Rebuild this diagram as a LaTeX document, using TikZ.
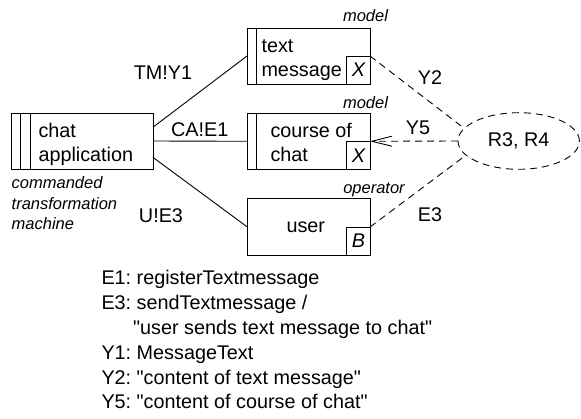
\documentclass[tikz,border=0pt]{standalone}
\usepackage{fontspec}
\setmainfont{Liberation Sans}
\usetikzlibrary{shapes.geometric,arrows.meta}
\frenchspacing
\newcommand\dgmain{\fontsize{19.8}{24.3}\selectfont}
\newcommand\dgnote{\fontsize{16.5}{20.2}\selectfont\itshape}
\newcommand\dglegend{\fontsize{19.8}{24.9}\selectfont}
\newcommand\dq{\textquotedbl}
\begin{document}
\begin{tikzpicture}[x=1pt,y=-1pt,
  every node/.style={inner sep=0pt, outer sep=0pt},
  lw/.style={line width=0.9pt},
  dashline/.style={lw, dash pattern=on 7pt off 5pt},
  box/.style={draw, lw, minimum width=123pt, minimum height=56pt, anchor=north west},
  corner/.style={draw, lw, minimum width=23.3pt, minimum height=28pt, anchor=south east, font=\dgmain\itshape},
  boxtext/.style={anchor=base west, align=left, font=\dgmain},
  lbl/.style={anchor=base, font=\dgmain},
  note/.style={font=\dgnote}]
\useasboundingbox (0,0) rectangle (581,419);

% machine domain with three stripes
\node[box, minimum width=142pt] (app) at (11,113) {};
\draw[lw] ([xshift=9.7pt]app.north west) -- ([xshift=9.7pt]app.south west);
\draw[lw] ([xshift=19pt]app.north west) -- ([xshift=19pt]app.south west);
\node[boxtext] (tapp) at (38.5,162) {chat\\application};
\node[note, anchor=base west, align=left] (ctm) at (11.7,229.3) {commanded\\transformation\\machine};

% model domains
\node[box] (tm) at (247,28) {};
\draw[lw] ([xshift=9.5pt]tm.north west) -- ([xshift=9.5pt]tm.south west);
\node[corner] (xtm) at (tm.south east) {X};
\node[boxtext] (ttm) at (261.5,76.5) {text\\message};
\node[note, anchor=base] (m1) at (365.5,21.7) {model};

\node[box] (cc) at (247,113.3) {};
\draw[lw] ([xshift=9.5pt]cc.north west) -- ([xshift=9.5pt]cc.south west);
\node[corner] (xcc) at (cc.south east) {X};
\node[boxtext] (tcc) at (270.5,162) {course of\\chat};
\node[note, anchor=base] (m2) at (365.5,108.3) {model};

% biddable domain
\node[box, minimum height=56.5pt] (us) at (247,198.5) {};
\node[corner] (xus) at (us.south east) {B};
\node[lbl] (tus) at (305.8,232.3) {user};
\node[note, anchor=base] (op) at (374,193.3) {operator};

% requirements
\node[draw, dashline, ellipse, minimum width=121.4pt, minimum height=56.6pt, font=\dgmain] (req) at (518.7,141) {R3, R4};

% interfaces
\draw[lw] (app.11) -- (tm.west);
\draw[lw] (app.east) -- (cc.west);
\draw[lw] (app.-13.5) -- (us.west);
\draw[dashline] (xtm.north east) -- (req.167);
\draw[dashline, -{Straight Barb[length=20pt,width=10pt]}] (req.west) -- (xcc.north east);
\draw[dashline] (xus.north east) -- (req.195);

\node[lbl] (ltm) at (163,80) {TM!Y1};
\node[lbl] (lca) at (199.7,136.7) {CA!E1};
\node[lbl] (lue) at (161,222.7) {U!E3};
\node[lbl] (ly2) at (430,85) {Y2};
\node[lbl] (ly5) at (418,134.3) {Y5};
\node[lbl] (le3) at (430,221.7) {E3};

% phenomena legend
\node[anchor=base west, align=left, font=\dglegend] (leg) at (101.5,409) {E1: registerTextmessage\\E3: sendTextmessage /\\\hspace*{31.6pt}\dq user sends text message to chat\dq\\Y1: MessageText\\Y2: \dq content of text message\dq\\Y5: \dq content of course of chat\dq};
\end{tikzpicture}
\end{document}
